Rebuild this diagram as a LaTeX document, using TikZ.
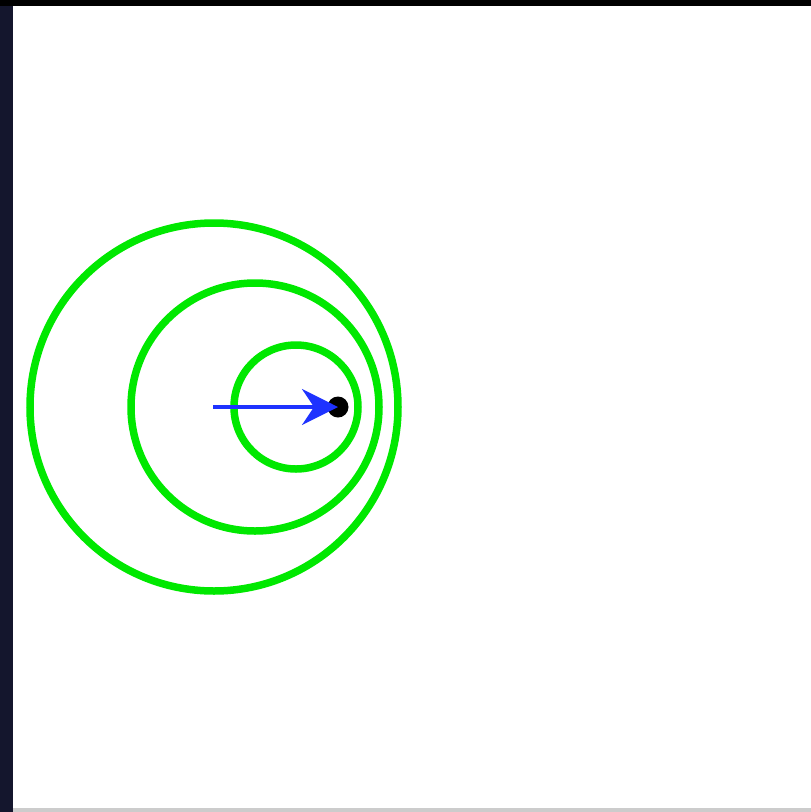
\documentclass[tikz,border=0pt]{standalone}
\usepackage{tikz}
\usetikzlibrary{arrows.meta}
\definecolor{ringgreen}{RGB}{0,232,0}
\definecolor{velblue}{RGB}{30,50,255}
\definecolor{framenavy}{RGB}{20,22,45}
\begin{document}
\begin{tikzpicture}[x=1pt,y=-1pt,ring/.style={draw=ringgreen,line width=7.5pt}]
\useasboundingbox (0,0) rectangle (811,812);
\fill[framenavy] (0,0) rectangle (13,812);
\fill[black] (0,0) rectangle (811,6);
\fill[black!20] (13,808) rectangle (811,812);
\foreach \cx/\r in {214/184,255/124,296/62}{\draw[ring] (\cx,407) circle (\r);}
\coordinate (start) at (213,407);
\node[circle,fill=black,inner sep=0pt,minimum size=21pt] (ball) at (338,407) {};
\draw[velblue,line width=3.5pt,-{Stealth[length=36pt,width=36pt,inset=12pt]}] (start) -- (ball.center);
\end{tikzpicture}
\end{document}
